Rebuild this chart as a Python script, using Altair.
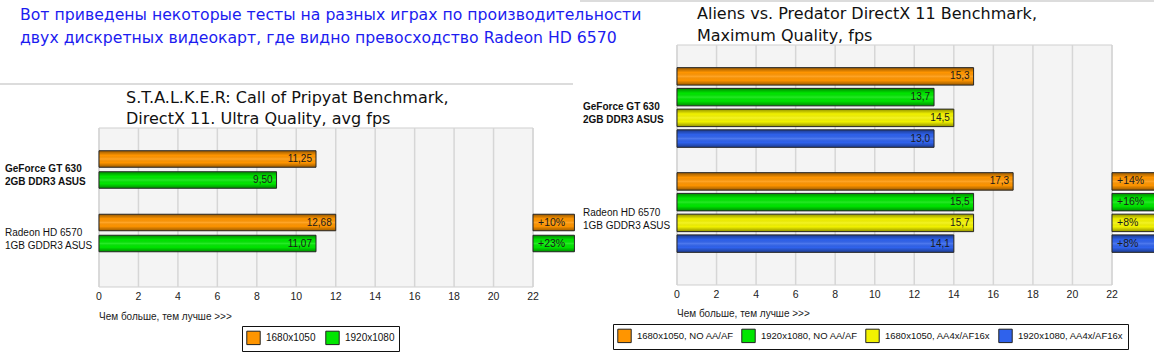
import altair as alt
import pandas as pd

# ---------------- data ----------------
INTRO = ["Вот приведены некоторые тесты на разных играх по производительности",
         "двух дискретных видеокарт, где видно превосходство Radeon HD 6570"]
ST_TITLE = ["S.T.A.L.K.E.R: Call of Pripyat Benchmark,", "DirectX 11. Ultra Quality, avg fps"]
AVP_TITLE = ["Aliens vs. Predator DirectX 11 Benchmark,", "Maximum Quality, fps"]
CARDS = ["GeForce GT 630", "Radeon HD 6570"]
CARD_LABELS = ["GeForce GT 630\n2GB DDR3 ASUS", "Radeon HD 6570\n1GB GDDR3 ASUS"]
CAPTION = "Чем больше, тем лучше >>>"
TICKS = list(range(0, 23, 2))

ST_SERIES = ["1680x1050", "1920x1080"]
ST_GEFORCE = [11.25, 9.50]
ST_RADEON = [12.68, 11.07]
ST_GAIN = ["+10%", "+23%"]
ST_COLORS = ["#ff9500", "#00e600"]

AVP_SERIES = ["1680x1050, NO AA/AF", "1920x1080, NO AA/AF",
              "1680x1050, AA4x/AF16x", "1920x1080, AA4x/AF16x"]
AVP_GEFORCE = [15.3, 13.7, 14.5, 13.0]
AVP_RADEON = [17.3, 15.5, 15.7, 14.1]
AVP_GAIN = ["+14%", "+16%", "+8%", "+8%"]
AVP_COLORS = ["#ff9500", "#00e600", "#f2f200", "#2f62ec"]

SMALL = "Liberation Sans"
BIG = "DejaVu Sans"

SHADE = alt.Gradient(
    gradient="linear", x1=0, x2=0, y1=0, y2=1,
    stops=[alt.GradientStop(color="rgba(0,0,0,0.40)", offset=0),
           alt.GradientStop(color="rgba(0,0,0,0.0)", offset=0.28),
           alt.GradientStop(color="rgba(255,255,255,0.15)", offset=0.5),
           alt.GradientStop(color="rgba(0,0,0,0.0)", offset=0.72),
           alt.GradientStop(color="rgba(0,0,0,0.40)", offset=1)])


def panel(series, geforce, radeon, gains, colors, decimals, title,
          xr, yr, pin, opin, opout, top, bottom, label_x, title_x, title_y, title_lh,
          tick_y, cap_y, leg_x, leg_y, leg_font, leg_pad, gain_end, line):
    rows = []
    for card, vals in zip(CARDS, [geforce, radeon]):
        for s, v in zip(series, vals):
            rows.append({"card": card, "series": s, "value": v,
                         "label": f"{v:.{decimals}f}".replace(".", ",")})
    df = pd.DataFrame(rows)
    gdf = pd.DataFrame({"card": CARDS[1], "series": series, "gain": gains})
    tdf = pd.DataFrame({"tick": TICKS})
    fdf = pd.DataFrame({"lo": [TICKS[0]], "hi": [TICKS[-1]]})
    ldf = pd.DataFrame({"card": CARDS, "text": CARD_LABELS})

    xs = alt.Scale(domain=[TICKS[0], TICKS[-1]], range=xr)
    ys = alt.Scale(domain=CARDS, range=yr, paddingInner=pin, paddingOuter=0)
    os_ = alt.Scale(domain=series, paddingInner=opin, paddingOuter=opout)
    Y = alt.Y("card:N", sort=CARDS, scale=ys, axis=None)
    YO = alt.YOffset("series:N", sort=series, scale=os_)
    color = alt.Color("series:N", sort=series,
                      scale=alt.Scale(domain=series, range=colors),
                      legend=alt.Legend(orient="none", legendX=leg_x, legendY=leg_y,
                                        direction="horizontal", title=None,
                                        strokeColor="#111", fillColor="#ffffff",
                                        padding=4, symbolType="square", symbolSize=180,
                                        symbolStrokeColor="#222", symbolStrokeWidth=1,
                                        symbolOpacity=1, labelFont=SMALL,
                                        labelFontSize=leg_font,
                                        labelColor="#111", labelOffset=5,
                                        columnPadding=leg_pad))

    frame = alt.Chart(fdf).mark_rect(fill="#f4f4f4", stroke="#cfcfcf", strokeWidth=1).encode(
        x=alt.X("lo:Q", scale=xs, axis=None), x2="hi:Q",
        y=alt.value(top), y2=alt.value(bottom))
    grid = alt.Chart(tdf).mark_rule(color="#d6d6d6", strokeWidth=1.5).encode(
        x=alt.X("tick:Q", scale=xs, axis=None), y=alt.value(top), y2=alt.value(bottom))
    ticks = alt.Chart(tdf).mark_text(font=SMALL, fontSize=10.5, color="#222",
                                     baseline="middle").encode(
        x=alt.X("tick:Q", scale=xs, axis=None), y=alt.value(tick_y), text="tick:Q")
    cap = alt.Chart(pd.DataFrame({"t": [CAPTION]})).mark_text(
        font=SMALL, fontSize=10, color="#222", align="left", baseline="middle").encode(
        x=alt.value(xr[0]), y=alt.value(cap_y), text="t:N")
    ttl = alt.Chart(pd.DataFrame({"t": ["\n".join(title)]})).mark_text(
        font=BIG, fontSize=16, color="#111", align="left", baseline="alphabetic",
        lineBreak="\n", lineHeight=title_lh).encode(
        x=alt.value(title_x), y=alt.value(title_y), text="t:N")
    rule = alt.Chart(pd.DataFrame({"a": [0]})).mark_rule(color="#d0d0d0", strokeWidth=1.5).encode(
        x=alt.value(line[0]), x2=alt.value(line[1]), y=alt.value(line[2]))

    base = alt.Chart(df).transform_calculate(bar="floor(datum.value)")
    bars = base.mark_bar().encode(
        x=alt.X("bar:Q", scale=xs, axis=None), y=Y, yOffset=YO, color=color)
    shade = base.mark_bar(color=SHADE, stroke="#262626", strokeWidth=1).encode(
        x=alt.X("bar:Q", scale=xs, axis=None), y=Y, yOffset=YO)
    blab = base.mark_text(font=SMALL, fontSize=10, color="#1a1a1a", align="right",
                          baseline="middle", dx=-4).encode(
        x=alt.X("bar:Q", scale=xs, axis=None), y=Y, yOffset=YO, text="label:N")

    gbase = alt.Chart(gdf)
    gbox = gbase.mark_bar().encode(
        x=alt.XDatum(TICKS[-1], type="quantitative", scale=xs, axis=None),
        x2=alt.X2Datum(gain_end), y=Y, yOffset=YO, color=color)
    gshade = gbase.mark_bar(color=SHADE, stroke="#262626", strokeWidth=1).encode(
        x=alt.XDatum(TICKS[-1], type="quantitative", scale=xs, axis=None),
        x2=alt.X2Datum(gain_end), y=Y, yOffset=YO)
    gtxt = gbase.mark_text(font=SMALL, fontSize=10.5, color="#1a1a1a", align="left",
                           baseline="middle", dx=5).encode(
        x=alt.XDatum(TICKS[-1], type="quantitative", scale=xs, axis=None),
        y=Y, yOffset=YO, text="gain:N")

    lab_b = alt.Chart(ldf.iloc[:1]).mark_text(
        font=SMALL, fontSize=10, fontWeight="bold", color="#111", align="left",
        baseline="middle", lineBreak="\n", lineHeight=13).encode(
        x=alt.value(label_x), y=Y, text="text:N")
    lab_n = alt.Chart(ldf.iloc[1:]).mark_text(
        font=SMALL, fontSize=10, color="#111", align="left",
        baseline="middle", lineBreak="\n", lineHeight=13).encode(
        x=alt.value(label_x), y=Y, text="text:N")

    return alt.layer(rule, frame, grid, bars, shade, blab, gbox, gshade, gtxt,
                     lab_b, lab_n, ticks, cap, ttl)


left = panel(ST_SERIES, ST_GEFORCE, ST_RADEON, ST_GAIN, ST_COLORS, 2, ST_TITLE,
             xr=[99, 533], yr=[148.5, 254], pin=0.3386, opin=0.214, opout=0.107,
             top=128, bottom=287, label_x=5, title_x=126, title_y=103, title_lh=21,
             tick_y=297, cap_y=317, leg_x=242, leg_y=326, leg_font=10, leg_pad=7,
             gain_end=24.1, line=(0, 573, 84))
right = panel(AVP_SERIES, AVP_GEFORCE, AVP_RADEON, AVP_GAIN, AVP_COLORS, 1, AVP_TITLE,
              xr=[677, 1112], yr=[66, 254], pin=0.21, opin=0.157, opout=0.0785,
              top=45, bottom=285, label_x=583, title_x=697, title_y=19, title_lh=22,
              tick_y=295, cap_y=314, leg_x=613, leg_y=324, leg_font=9.5, leg_pad=5,
              gain_end=24.4, line=(580, 1154, 1))

intro = alt.Chart(pd.DataFrame({"t": ["\n".join(INTRO)]})).mark_text(
    font=BIG, fontSize=15.7, color="#1c1cf0", align="left", baseline="alphabetic",
    lineBreak="\n", lineHeight=23).encode(
    x=alt.value(20), y=alt.value(20), text="t:N")

chart = alt.layer(left, right, intro).resolve_scale(
    x="independent", y="independent", yOffset="independent", color="independent"
).properties(
    width=1154, height=354, padding=0,
    autosize=alt.AutoSizeParams(type="none"),
    background="#ffffff"
).configure_view(stroke="transparent")

chart.save("out.html", embed_options={"renderer": "svg", "actions": False})
